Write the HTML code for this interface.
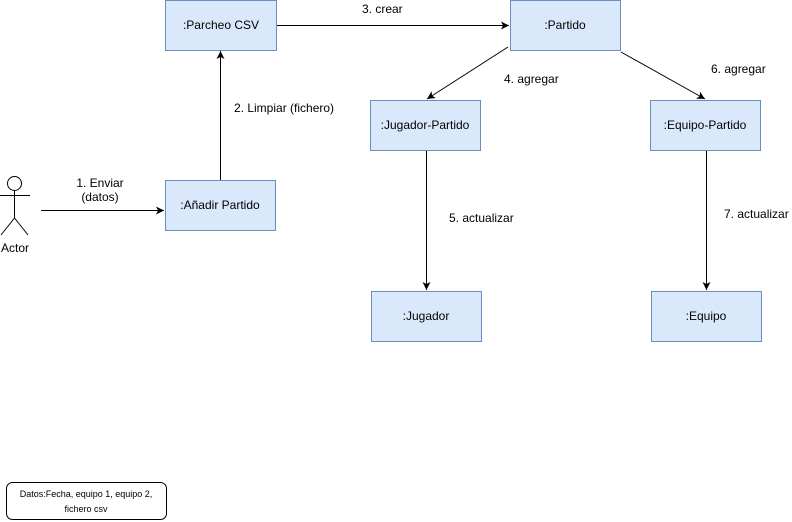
<!DOCTYPE html>
<html><head><meta charset="utf-8"><style>
body{margin:0;background:#fff;width:792px;height:522px;overflow:hidden}
svg{display:block;font-family:"Liberation Sans",Arial,sans-serif;font-size:12px}
</style></head><body>
<svg width="792" height="522" viewBox="0 0 792 522" xmlns="http://www.w3.org/2000/svg">
<defs><marker id="a" markerWidth="10" markerHeight="10" refX="9" refY="5" orient="auto" markerUnits="userSpaceOnUse"><path d="M1,1 L9,5 L1,9 L3,5 Z" fill="#000"/></marker></defs>
<g fill="#dae8fc" stroke="#6c8ebf">
<rect x="165.5" y="0.5" width="111" height="50"/>
<rect x="510.5" y="0.5" width="110" height="50"/>
<rect x="370.5" y="100.5" width="110" height="50"/>
<rect x="650.5" y="100.5" width="110" height="50"/>
<rect x="165.5" y="180.5" width="110" height="50"/>
<rect x="371.5" y="291.5" width="110" height="50"/>
<rect x="651.5" y="291.5" width="110" height="50"/>
</g>
<g stroke="#000" fill="none">
<line x1="41" y1="210.5" x2="164" y2="210.5" marker-end="url(#a)"/>
<line x1="220.5" y1="180" x2="220.5" y2="51" marker-end="url(#a)"/>
<line x1="277" y1="25.5" x2="509" y2="25.5" marker-end="url(#a)"/>
<line x1="508" y1="47" x2="427" y2="99" marker-end="url(#a)"/>
<line x1="621" y1="52" x2="705" y2="99" marker-end="url(#a)"/>
<line x1="426.5" y1="151" x2="426.5" y2="290" marker-end="url(#a)"/>
<line x1="706.5" y1="151" x2="706.5" y2="290" marker-end="url(#a)"/>
<circle cx="14.5" cy="183.5" r="7"/>
<line x1="14.5" y1="190.5" x2="14.5" y2="218"/>
<line x1="0" y1="195.5" x2="30" y2="195.5"/>
<line x1="14.5" y1="218" x2="1" y2="235"/>
<line x1="14.5" y1="218" x2="28" y2="235"/>
<rect x="6.5" y="482.5" width="160" height="37" rx="6"/>
</g>
<g fill="#000" text-anchor="middle">
<text x="221" y="29">:Parcheo CSV</text>
<text x="565" y="29">:Partido</text>
<text x="425" y="129">:Jugador-Partido</text>
<text x="705" y="129">:Equipo-Partido</text>
<text x="220" y="209">:Añadir Partido</text>
<text x="426" y="320">:Jugador</text>
<text x="706" y="320">:Equipo</text>
<text x="15" y="252">Actor</text>
<text x="100" y="187">1. Enviar</text>
<text x="100" y="201">(datos)</text>
<text x="86" y="497" font-size="9">Datos:Fecha, equipo 1, equipo 2,</text>
<text x="86" y="512" font-size="9">fichero csv</text>
</g>
<g fill="#000">
<text x="234" y="112">2. Limpiar (fichero)</text>
<text x="362" y="13">3. crear</text>
<text x="504" y="83">4. agregar</text>
<text x="711" y="73">6. agregar</text>
<text x="449" y="222">5. actualizar</text>
<text x="724" y="218">7. actualizar</text>
</g>
</svg>
</body></html>
